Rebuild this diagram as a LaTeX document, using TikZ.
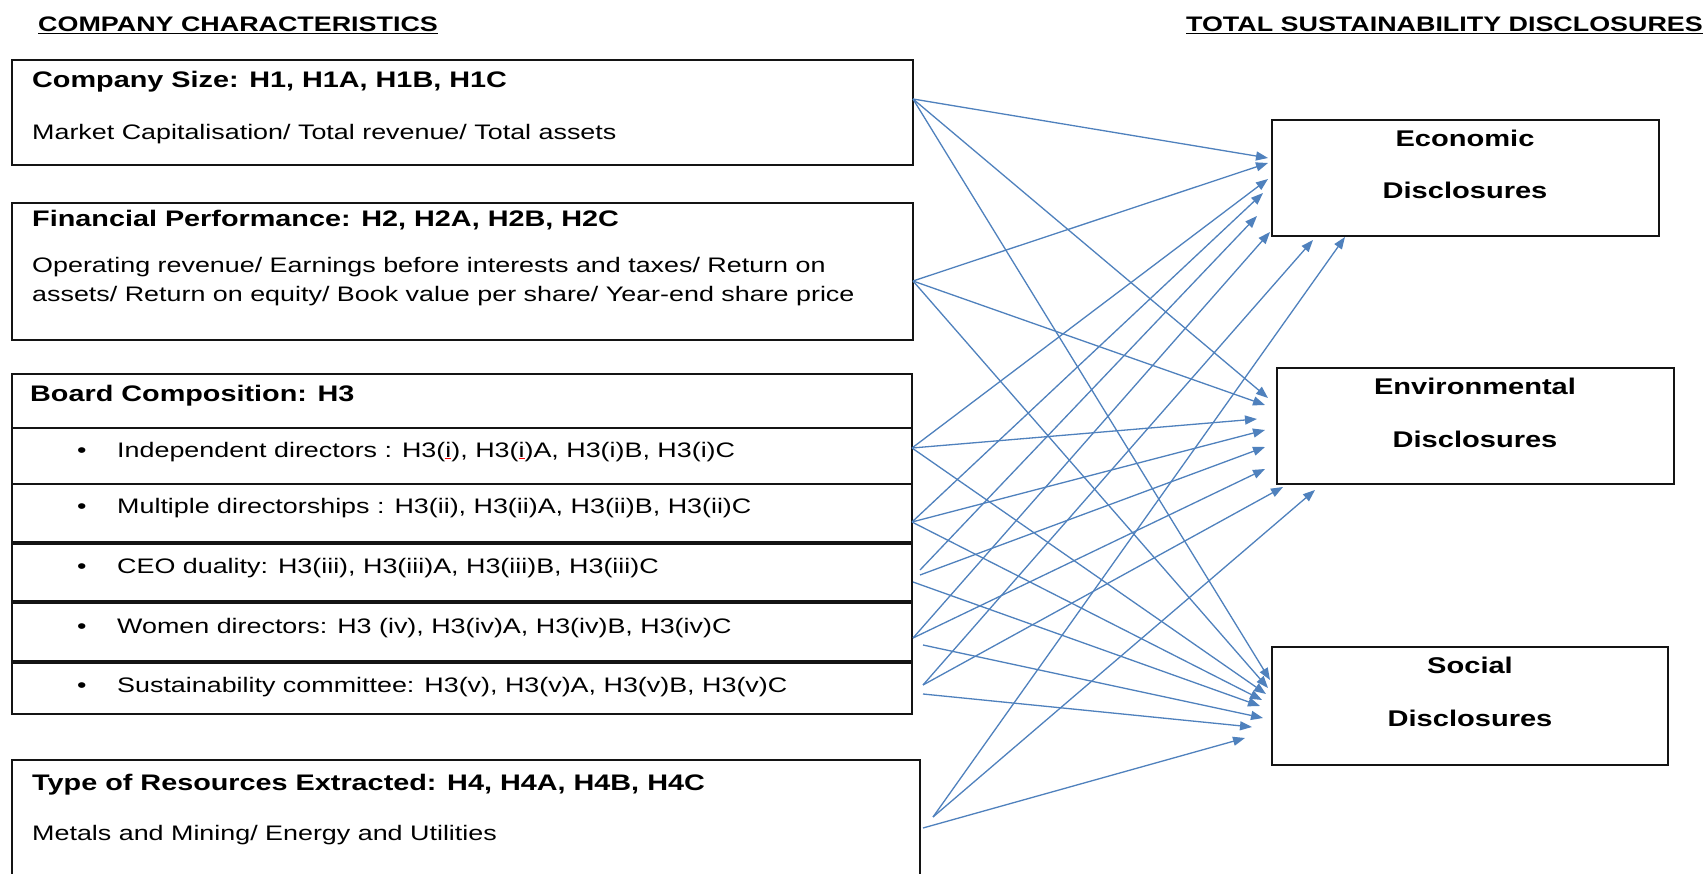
\documentclass[tikz,border=0pt]{standalone}
\usepackage{fontspec}
\setmainfont{Liberation Sans}[FakeStretch=1.28]
\usetikzlibrary{arrows.meta}
\definecolor{linkblue}{RGB}{79,129,189}
\definecolor{boxline}{RGB}{20,20,20}
\newcommand\redmark[1]{{\color{red}\underline{\textcolor{black}{#1}}}}
\begin{document}
\begin{tikzpicture}[x=1pt,y=-1pt,
  box/.style={draw=boxline, line width=1.8pt, inner sep=0pt, outer sep=0pt, anchor=north west},
  lbl/.style={inner sep=0pt, anchor=base west, font=\fontsize{21}{25}\selectfont},
  ttl/.style={inner sep=0pt, anchor=base west, font=\fontsize{22.5}{27}\selectfont\bfseries},
  hdr/.style={inner sep=0pt, font=\fontsize{21}{25}\selectfont\bfseries},
  rttl/.style={inner sep=0pt, anchor=base, font=\fontsize{22.7}{27}\selectfont\bfseries},
  conn/.style={draw=linkblue, line width=1.3pt, -{Triangle[length=12pt,width=9pt]}},
  thicksep/.style={draw=boxline, line width=3.5pt}]
\useasboundingbox (0,0) rectangle (1708,874);
\clip (0,0) rectangle (1708,874);
\fill[white] (0,0) rectangle (1708,874);

% headers
\node[hdr, anchor=base west] (hleft) at (38,32) {\underline{COMPANY CHARACTERISTICS}};
\node[hdr, anchor=base east] (hright) at (1703,32) {\underline{TOTAL SUSTAINABILITY DISCLOSURES}};

% left boxes
\node[box, minimum width=901pt, minimum height=105pt] (cs) at (12,60) {};
\node[ttl] (cs-t) at (32,88) {Company Size: H1, H1A, H1B, H1C};
\node[lbl] (cs-b) at (32,140) {Market Capitalisation/ Total revenue/ Total assets};

\node[box, minimum width=901pt, minimum height=137pt] (fp) at (12,203) {};
\node[ttl] (fp-t) at (32,227) {Financial Performance: H2, H2A, H2B, H2C};
\node[lbl] (fp-b1) at (32,273) {Operating revenue/ Earnings before interests and taxes/ Return on};
\node[lbl] (fp-b2) at (32,302) {assets/ Return on equity/ Book value per share/ Year-end share price};

\node[box, minimum width=900pt, minimum height=54pt] (bc) at (12,374) {};
\node[box, minimum width=900pt, minimum height=56pt] (r1) at (12,428) {};
\node[box, minimum width=900pt, minimum height=59pt] (r2) at (12,484) {};
\node[box, minimum width=900pt, minimum height=59pt] (r3) at (12,543) {};
\node[box, minimum width=900pt, minimum height=60pt] (r4) at (12,602) {};
\node[box, minimum width=900pt, minimum height=52pt] (r5) at (12,662) {};
\draw[thicksep] (r3.north west) -- (r3.north east);
\draw[thicksep] (r4.north west) -- (r4.north east);
\draw[thicksep] (r5.north west) -- (r5.north east);
\node[ttl] (bc-t) at (30,402) {Board Composition: H3};
\node[lbl] (b1) at (77,457) {•};
\node[lbl] (r1-t) at (117,457) {Independent directors : H3(\redmark{i}), H3(\redmark{i})A, H3(i)B, H3(i)C};
\node[lbl] (b2) at (77,513) {•};
\node[lbl] (r2-t) at (117,513) {Multiple directorships : H3(ii), H3(ii)A, H3(ii)B, H3(ii)C};
\node[lbl] (b3) at (77,573) {•};
\node[lbl] (r3-t) at (117,573) {CEO duality: H3(iii), H3(iii)A, H3(iii)B, H3(iii)C};
\node[lbl] (b4) at (77,633) {•};
\node[lbl] (r4-t) at (117,633) {Women directors: H3 (iv), H3(iv)A, H3(iv)B, H3(iv)C};
\node[lbl] (b5) at (77,692) {•};
\node[lbl] (r5-t) at (117,692) {Sustainability committee: H3(v), H3(v)A, H3(v)B, H3(v)C};

\node[box, minimum width=908pt, minimum height=150pt] (tr) at (12,760) {};
\node[ttl] (tr-t) at (32,790) {Type of Resources Extracted: H4, H4A, H4B, H4C};
\node[lbl] (tr-b) at (32,840) {Metals and Mining/ Energy and Utilities};

% right boxes
\node[box, minimum width=387pt, minimum height=116pt] (ec) at (1272,120) {};
\node[rttl] (ec-1) at (1465,147) {Economic};
\node[rttl] (ec-2) at (1465,199) {Disclosures};
\node[box, minimum width=397pt, minimum height=116pt] (en) at (1277,368) {};
\node[rttl] (en-1) at (1475,395) {Environmental};
\node[rttl] (en-2) at (1475,447) {Disclosures};
\node[box, minimum width=396pt, minimum height=118pt] (so) at (1272,647) {};
\node[rttl] (so-1) at (1470,673) {Social};
\node[rttl] (so-2) at (1470,726) {Disclosures};

% source points
\coordinate (o-cs) at (913,99);
\coordinate (o-fp) at (913,281);
\coordinate (o-r1) at (912,448);
\coordinate (o-r2) at (912,522);
\coordinate (o-r3a) at (920,570);
\coordinate (o-r3b) at (920,575);
\coordinate (o-r3c) at (913,582);
\coordinate (o-r4a) at (913,638);
\coordinate (o-r4b) at (923,645);
\coordinate (o-r5a) at (923,685);
\coordinate (o-r5b) at (923,694);
\coordinate (o-tra) at (933,817);
\coordinate (o-trb) at (923,828);

% arrow tips
\coordinate (e1) at (1268,158); \coordinate (e2) at (1268,163);
\coordinate (e3) at (1268,179); \coordinate (e4) at (1263,193);
\coordinate (e5) at (1257,216); \coordinate (e6) at (1270,232);
\coordinate (e7) at (1313,240); \coordinate (e8) at (1345,237);
\coordinate (n1) at (1268,398); \coordinate (n2) at (1265,405);
\coordinate (n3) at (1257,419); \coordinate (n4) at (1265,430);
\coordinate (n5) at (1265,447); \coordinate (n6) at (1265,469);
\coordinate (n7) at (1283,487); \coordinate (n8) at (1315,490);
\coordinate (s1) at (1270,680); \coordinate (s2) at (1268,688);
\coordinate (s3) at (1266,694); \coordinate (s4) at (1262,700);
\coordinate (s5) at (1260,706); \coordinate (s6) at (1263,718);
\coordinate (s7) at (1252,727); \coordinate (s8) at (1245,738);

% connectors
\draw[conn] (o-cs) -- (e1);
\draw[conn] (o-cs) -- (n1);
\draw[conn] (o-cs) -- (s1);
\draw[conn] (o-fp) -- (e2);
\draw[conn] (o-fp) -- (n2);
\draw[conn] (o-fp) -- (s2);
\draw[conn] (o-r1) -- (e3);
\draw[conn] (o-r1) -- (n3);
\draw[conn] (o-r1) -- (s3);
\draw[conn] (o-r2) -- (e4);
\draw[conn] (o-r2) -- (n4);
\draw[conn] (o-r2) -- (s4);
\draw[conn] (o-r3a) -- (e5);
\draw[conn] (o-r3b) -- (n5);
\draw[conn] (o-r3c) -- (s5);
\draw[conn] (o-r4a) -- (e6);
\draw[conn] (o-r4a) -- (n6);
\draw[conn] (o-r4b) -- (s6);
\draw[conn] (o-r5a) -- (e7);
\draw[conn] (o-r5a) -- (n7);
\draw[conn] (o-r5b) -- (s7);
\draw[conn] (o-tra) -- (e8);
\draw[conn] (o-tra) -- (n8);
\draw[conn] (o-trb) -- (s8);
\end{tikzpicture}
\end{document}
